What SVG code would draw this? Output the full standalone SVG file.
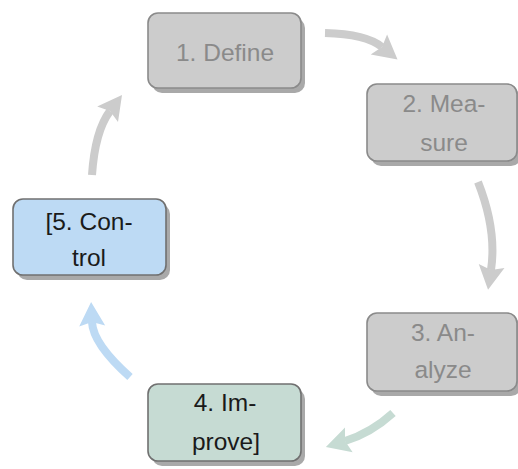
<svg xmlns="http://www.w3.org/2000/svg" width="518" height="469" viewBox="0 0 518 469">
<style>
.sh{fill:#a9a9a9}
.box{stroke-width:1.6}
.faded{fill:#cccccc;stroke:#8a8a8a}
.ftxt{fill:#8a8a8a}
.txt{fill:#1a1a1a}
text{font-family:"Liberation Sans",Arial,sans-serif;font-size:24.5px;text-anchor:middle}
.arr{fill:none;stroke-width:8}
</style>
<defs>
<marker id="hg" markerUnits="userSpaceOnUse" markerWidth="30" markerHeight="30" viewBox="0 -15 26 30" refX="4" refY="0" orient="auto"><path d="M0,-13 L24,0 L0,13 L4,0 z" fill="#cccccc"/></marker>
<marker id="hgr" markerUnits="userSpaceOnUse" markerWidth="30" markerHeight="30" viewBox="0 -15 26 30" refX="4" refY="0" orient="auto"><path d="M0,-13 L24,0 L0,13 L4,0 z" fill="#c6dbd3"/></marker>
<marker id="hb" markerUnits="userSpaceOnUse" markerWidth="30" markerHeight="30" viewBox="0 -15 26 30" refX="4" refY="0" orient="auto"><path d="M0,-13 L24,0 L0,13 L4,0 z" fill="#bddaf4"/></marker>
</defs>
<g id="connectors">
<path class="arr" stroke="#cccccc" d="M325,33 Q366,34 382,47" marker-end="url(#hg)"/>
<path class="arr" stroke="#cccccc" d="M478,182 Q497,230 491,270" marker-end="url(#hg)"/>
<path class="arr" stroke="#c6dbd3" d="M393,413 Q371,433 345,441" marker-end="url(#hgr)"/>
<path class="arr" stroke="#bddaf4" d="M130,377 Q93,344 92,322" marker-end="url(#hb)"/>
<path class="arr" stroke="#cccccc" d="M92,175 Q95,131 110,111" marker-end="url(#hg)"/>
</g>
<g id="node1">
<rect class="sh" x="152" y="18" width="153" height="75" rx="10"/>
<rect class="box faded" x="148" y="13" width="153" height="75" rx="10"/>
<text class="ftxt" x="225" y="60.5">1. Define</text>
</g>
<g id="node2">
<rect class="sh" x="371" y="89" width="150" height="77" rx="10"/>
<rect class="box faded" x="367" y="84" width="150" height="77" rx="10"/>
<text class="ftxt" x="444" y="112">2. Mea-</text>
<text class="ftxt" x="444" y="151">sure</text>
</g>
<g id="node3">
<rect class="sh" x="371" y="318" width="150" height="78" rx="10"/>
<rect class="box faded" x="367" y="313" width="150" height="78" rx="10"/>
<text class="ftxt" x="443" y="341">3. An-</text>
<text class="ftxt" x="443" y="378">alyze</text>
</g>
<g id="node4">
<rect class="sh" x="152" y="389" width="153" height="77" rx="10"/>
<rect class="box" fill="#c6dbd3" stroke="#707070" x="148" y="384" width="153" height="77" rx="10"/>
<text class="txt" x="225" y="411">4. Im-</text>
<text class="txt" x="226" y="450">prove]</text>
</g>
<g id="node5">
<rect class="sh" x="17" y="204" width="153" height="76" rx="10"/>
<rect class="box" fill="#bddaf4" stroke="#707070" x="13" y="199" width="153" height="76" rx="10"/>
<text class="txt" x="89" y="230">[5. Con-</text>
<text class="txt" x="89" y="266">trol</text>
</g>
</svg>
